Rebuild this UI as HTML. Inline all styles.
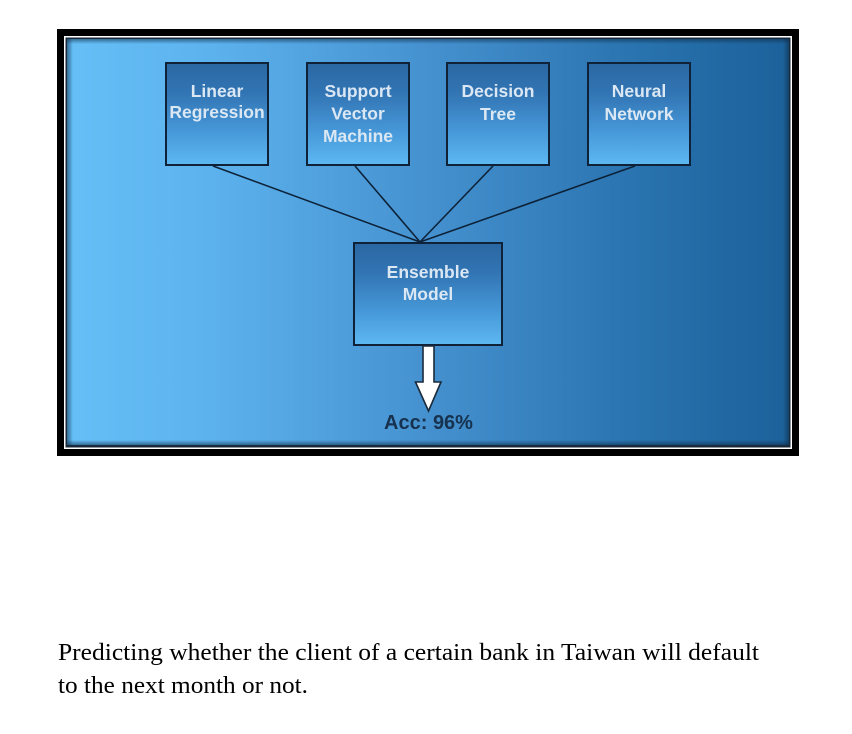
<!DOCTYPE html>
<html>
<head>
<meta charset="utf-8">
<style>
  html, body { margin: 0; padding: 0; background: #ffffff; }
  body { width: 852px; height: 734px; overflow: hidden; position: relative; }
  svg { position: absolute; left: 0; top: 0; }
</style>
</head>
<body>
<svg width="852" height="734" viewBox="0 0 852 734" xmlns="http://www.w3.org/2000/svg">
  <defs>
    <linearGradient id="bg" x1="0" y1="0" x2="1" y2="0">
      <stop offset="0" stop-color="#66bff7"/>
      <stop offset="0.2" stop-color="#5cb2ed"/>
      <stop offset="0.5" stop-color="#4591cf"/>
      <stop offset="0.8" stop-color="#2872ae"/>
      <stop offset="1" stop-color="#1c619a"/>
    </linearGradient>
    <linearGradient id="box" x1="0" y1="0" x2="0" y2="1">
      <stop offset="0" stop-color="#2a67a2"/>
      <stop offset="0.3" stop-color="#3275b4"/>
      <stop offset="0.65" stop-color="#4596d6"/>
      <stop offset="1" stop-color="#5db8f2"/>
    </linearGradient>
    <linearGradient id="shL" x1="0" y1="0" x2="1" y2="0">
      <stop offset="0" stop-color="#0b2a45" stop-opacity="0.55"/>
      <stop offset="1" stop-color="#0b2a45" stop-opacity="0"/>
    </linearGradient>
    <linearGradient id="shR" x1="1" y1="0" x2="0" y2="0">
      <stop offset="0" stop-color="#0b2a45" stop-opacity="0.55"/>
      <stop offset="1" stop-color="#0b2a45" stop-opacity="0"/>
    </linearGradient>
    <linearGradient id="shT" x1="0" y1="0" x2="0" y2="1">
      <stop offset="0" stop-color="#0b2a45" stop-opacity="0.55"/>
      <stop offset="1" stop-color="#0b2a45" stop-opacity="0"/>
    </linearGradient>
    <linearGradient id="shB" x1="0" y1="1" x2="0" y2="0">
      <stop offset="0" stop-color="#0b2a45" stop-opacity="0.55"/>
      <stop offset="1" stop-color="#0b2a45" stop-opacity="0"/>
    </linearGradient>
  </defs>

  <!-- outer frame -->
  <rect x="57" y="29" width="742" height="427" fill="#000000"/>
  <rect x="64" y="36" width="728" height="413" fill="#ffffff"/>
  <rect x="65.5" y="37.5" width="725" height="410" fill="#1a2a3a"/>
  <rect x="67" y="39" width="722" height="406" fill="url(#bg)"/>
  <!-- inner shadows -->
  <rect x="67" y="39" width="6" height="406" fill="url(#shL)"/>
  <rect x="783" y="39" width="6" height="406" fill="url(#shR)"/>
  <rect x="67" y="39" width="722" height="5" fill="url(#shT)"/>
  <rect x="67" y="440" width="722" height="5" fill="url(#shB)"/>

  <!-- connectors -->
  <g stroke="#0d2238" stroke-width="1.6" fill="none">
    <line x1="213" y1="166" x2="420" y2="242"/>
    <line x1="355" y1="166" x2="420" y2="242"/>
    <line x1="493" y1="166" x2="420" y2="242"/>
    <line x1="635" y1="166" x2="420" y2="242"/>
  </g>

  <!-- boxes -->
  <g stroke="#0f2238" stroke-width="2" fill="url(#box)">
    <rect x="166" y="63" width="102" height="102"/>
    <rect x="307" y="63" width="102" height="102"/>
    <rect x="447" y="63" width="102" height="102"/>
    <rect x="588" y="63" width="102" height="102"/>
    <rect x="354" y="243" width="148" height="102"/>
  </g>

  <!-- box labels -->
  <g font-family="'Liberation Sans', Arial, sans-serif" font-weight="bold" font-size="17.5" fill="#dbe8f4" text-anchor="middle">
    <text x="217" y="97">Linear</text>
    <text x="217" y="118">Regression</text>

    <text x="358" y="97">Support</text>
    <text x="358" y="119.5">Vector</text>
    <text x="358" y="142">Machine</text>

    <text x="498" y="97">Decision</text>
    <text x="498" y="120">Tree</text>

    <text x="639" y="97">Neural</text>
    <text x="639" y="120">Network</text>

    <text x="428" y="278">Ensemble</text>
    <text x="428" y="300">Model</text>
  </g>

  <!-- arrow -->
  <path d="M423 346 L434 346 L434 382 L441 382 L428.5 411 L415.5 382 L423 382 Z"
        fill="#ffffff" stroke="#1a2a3a" stroke-width="1.6" stroke-linejoin="miter"/>

  <!-- accuracy -->
  <text x="428.5" y="429" font-family="'Liberation Sans', Arial, sans-serif" font-weight="bold" font-size="20" fill="#17324f" text-anchor="middle">Acc: 96%</text>

  <!-- caption -->
  <g font-family="'Liberation Serif', 'Times New Roman', serif" font-size="24" fill="#000000">
    <text x="58" y="660" textLength="701" lengthAdjust="spacingAndGlyphs">Predicting whether the client of a certain bank in Taiwan will default</text>
    <text x="58" y="693" textLength="250" lengthAdjust="spacingAndGlyphs">to the next month or not.</text>
  </g>
</svg>
</body>
</html>
